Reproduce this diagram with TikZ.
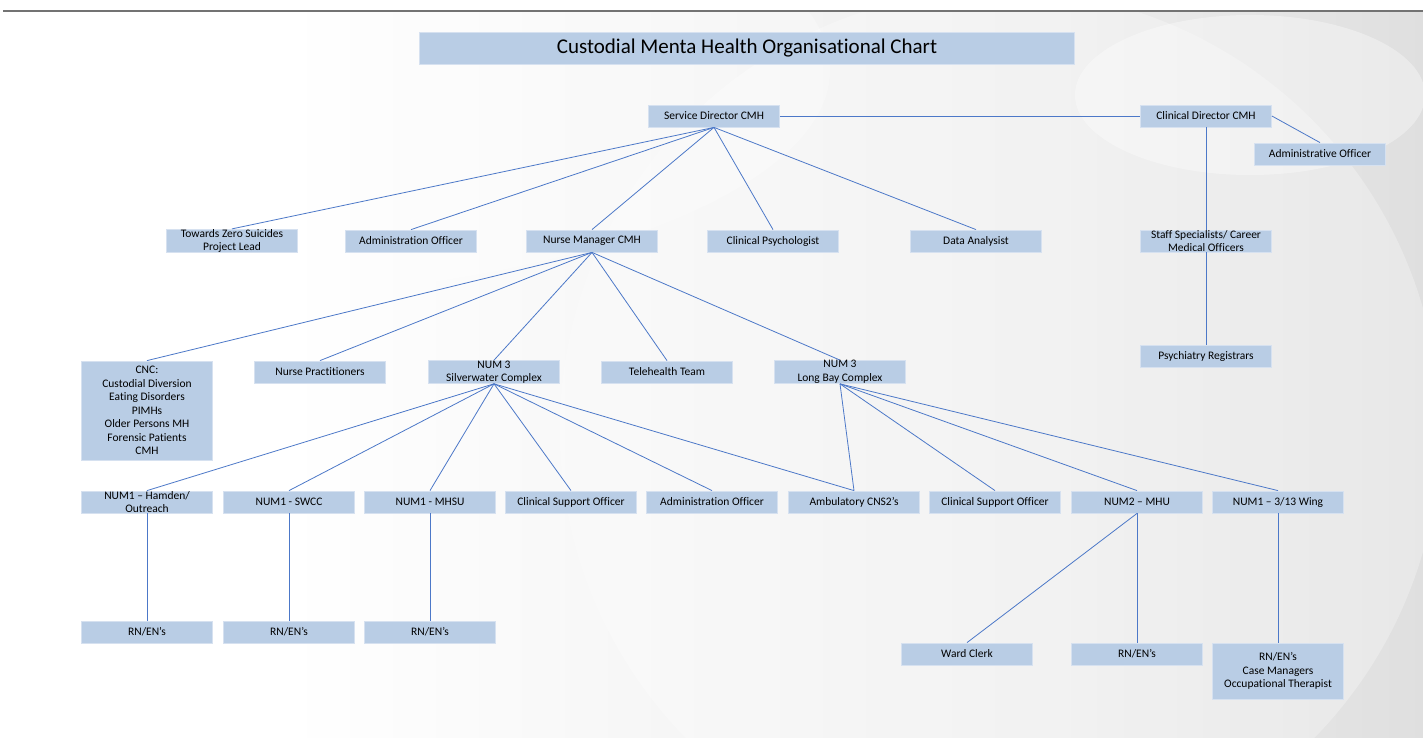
\documentclass[tikz,border=0pt]{standalone}
\usepackage{fontspec}
\setmainfont[Ligatures={NoCommon}]{Carlito}
\definecolor{boxblue}{RGB}{185,205,229}
\definecolor{boxedge}{RGB}{214,225,240}
\definecolor{linkblue}{RGB}{76,120,200}
\pgfdeclarehorizontalshading{slidebg}{100bp}{color(0bp)=(white); color(35bp)=(white); color(62bp)=(black!7); color(100bp)=(black!23)}
\tikzset{
  unit/.style={fill=boxblue, draw=boxedge, line width=0.8pt, minimum width=131pt,
    minimum height=22pt, inner sep=0pt, align=center,
    font=\fontsize{11.5}{13.5}\selectfont},
  heading/.style={unit, minimum width=655pt, minimum height=32pt,
    font=\fontsize{21}{23}\selectfont},
  link/.style={draw=linkblue, line width=0.8pt}
}
\begin{document}
\begin{tikzpicture}[x=1pt,y=-1pt]
  % page and slide background
  \useasboundingbox (0,0) rectangle (1423,738);
  \fill[white] (0,0) rectangle (1423,738);
  \shade[shading=slidebg] (0,11) rectangle (1423,738);
  \begin{scope}
    \clip (0,11) rectangle (1423,738);
    \fill[white, opacity=0.28] (1000,430) circle (440);
    \fill[white, opacity=0.35] (1250,95) ellipse (175 and 80);
    \fill[white, opacity=0.25] (180,70) ellipse (650 and 230);
  \end{scope}
  \draw[black!55, line width=1.2pt] (3,11) -- (1423,11);

  % title
  \node[heading] (title) at (747,48) {Custodial Menta Health Organisational Chart};

  % top level
  \node[unit] (sd) at (714,116) {Service Director CMH};
  \node[unit] (cd) at (1206,116) {Clinical Director CMH};
  \node[unit] (ao) at (1320,154) {Administrative Officer};

  % second level
  \node[unit] (tzs) at (232,241) {Towards Zero Suicides\\Project Lead};
  \node[unit] (adm1) at (411,241) {Administration Officer};
  \node[unit] (nm) at (592,241) {Nurse Manager CMH};
  \node[unit] (psy) at (773,241) {Clinical Psychologist};
  \node[unit] (data) at (976,241) {Data Analysist};
  \node[unit] (ss) at (1206,241) {Staff Specialists/ Career\\Medical Officers};
  \node[unit] (reg) at (1206,356) {Psychiatry Registrars};

  % third level
  \node[unit, minimum height=99pt] (cnc) at (147,410.5) {CNC:\\Custodial Diversion\\Eating Disorders\\PIMHs\\Older Persons MH\\Forensic Patients\\CMH};
  \node[unit] (np) at (320,372) {Nurse Practitioners};
  \node[unit] (sw) at (494,372) {NUM 3\\Silverwater Complex};
  \node[unit] (tele) at (667,372) {Telehealth Team};
  \node[unit] (lb) at (840,372) {NUM 3\\Long Bay Complex};

  % fourth level
  \node[unit] (ham) at (147,502) {NUM1 – Hamden/\\Outreach};
  \node[unit] (swcc) at (289,502) {NUM1 - SWCC};
  \node[unit] (mhsu) at (430,502) {NUM1 - MHSU};
  \node[unit] (cso1) at (571,502) {Clinical Support Officer};
  \node[unit] (adm2) at (712,502) {Administration Officer};
  \node[unit] (amb) at (854,502) {Ambulatory CNS2’s};
  \node[unit] (cso2) at (995,502) {Clinical Support Officer};
  \node[unit] (mhu) at (1137,502) {NUM2 – MHU};
  \node[unit] (wing) at (1278,502) {NUM1 – 3/13 Wing};

  % fifth level
  \node[unit] (rn1) at (147,632) {RN/EN’s};
  \node[unit] (rn2) at (289,632) {RN/EN’s};
  \node[unit] (rn3) at (430,632) {RN/EN’s};
  \node[unit] (clerk) at (967,654) {Ward Clerk};
  \node[unit] (rn4) at (1137,654) {RN/EN’s};
  \node[unit, minimum height=56pt] (rn5) at (1278,671) {RN/EN’s\\Case Managers\\Occupational Therapist};

  % reporting lines
  \draw[link] (sd.east) -- (cd.west);
  \draw[link] (cd.east) -- (ao.north);
  \draw[link] (cd.south) -- (ss.north);
  \draw[link] (ss.south) -- (reg.north);
  \foreach \n in {tzs,adm1,nm,psy,data} \draw[link] (sd.south) -- (\n.north);
  \foreach \n in {cnc,np,sw,tele,lb} \draw[link] (nm.south) -- (\n.north);
  \foreach \n in {ham,swcc,mhsu,cso1,adm2,amb} \draw[link] (sw.south) -- (\n.north);
  \foreach \n in {amb,cso2,mhu,wing} \draw[link] (lb.south) -- (\n.north);
  \draw[link] (ham.south) -- (rn1.north);
  \draw[link] (swcc.south) -- (rn2.north);
  \draw[link] (mhsu.south) -- (rn3.north);
  \draw[link] (mhu.south) -- (clerk.north);
  \draw[link] (mhu.south) -- (rn4.north);
  \draw[link] (wing.south) -- (rn5.north);
\end{tikzpicture}
\end{document}
